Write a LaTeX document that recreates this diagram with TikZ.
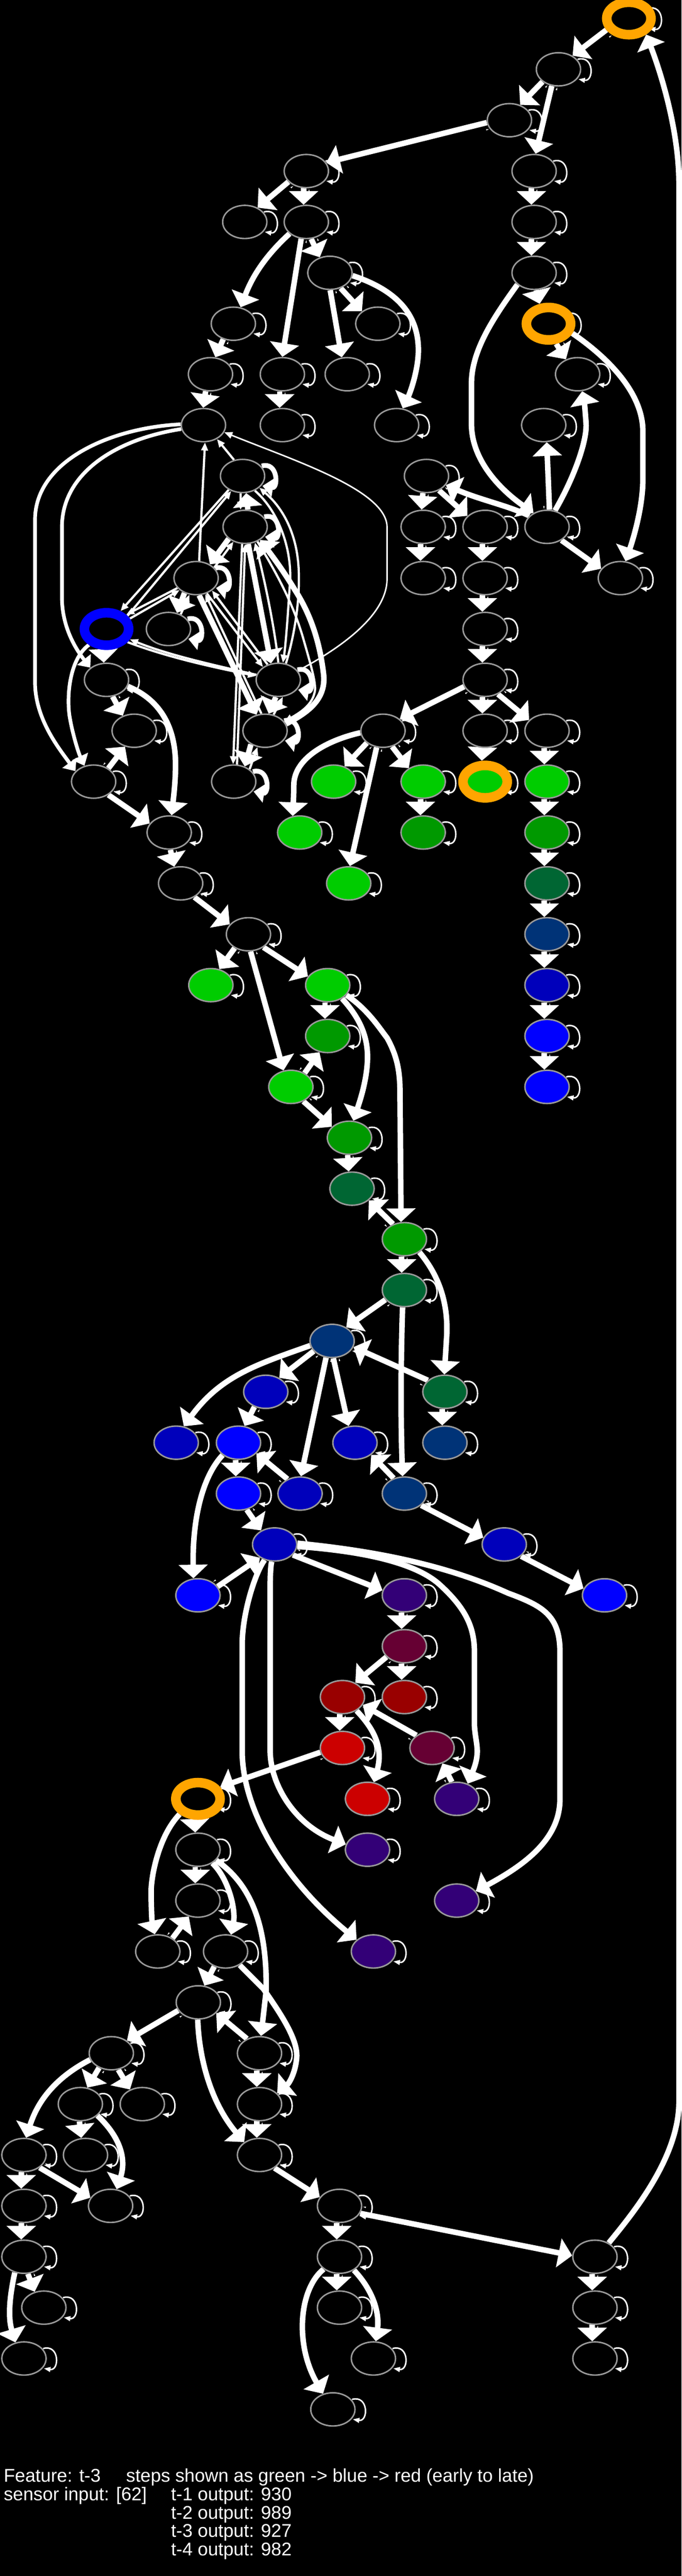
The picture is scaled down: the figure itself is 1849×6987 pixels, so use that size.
\documentclass[tikz,border=0pt]{standalone}
\usepackage{fontspec}
\setmainfont{Liberation Sans}
\usetikzlibrary{arrows.meta,calc,shapes.geometric}
\pgfdeclarelayer{bg}
\pgfdeclarelayer{edges}
\pgfsetlayers{bg,edges,main}
\definecolor{cG}{HTML}{00CC00}
\definecolor{cDG}{HTML}{009900}
\definecolor{cT}{HTML}{006633}
\definecolor{cN}{HTML}{003377}
\definecolor{cBB}{HTML}{0000BB}
\definecolor{cB}{HTML}{0000FF}
\definecolor{cP}{HTML}{330077}
\definecolor{cM}{HTML}{660033}
\definecolor{cDR}{HTML}{990000}
\definecolor{cR}{HTML}{CC0000}
\definecolor{cO}{HTML}{FFA500}
\definecolor{cBd}{HTML}{999999}
\tikzset{
  nd/.style={ellipse,draw=cBd,line width=4pt,fill=#1,minimum width=120pt,minimum height=90pt,inner sep=0pt},
  nd/.default=black,
  ringnd/.style 2 args={ellipse,draw=#1,line width=26pt,fill=#2,minimum width=120pt,minimum height=88pt,inner sep=0pt},
  mainedge/.style={draw=white,line width=15pt,-{Triangle[length=37pt,width=78pt]}},
  midedge/.style={draw=white,line width=10pt,-{Triangle[length=28pt,width=46pt]}},
  thinedge/.style={draw=white,line width=6pt,-{Triangle[length=22pt,width=18pt]}},
  hairedge/.style={draw=white,line width=4pt,-{Triangle[length=22pt,width=18pt]}},
  smallloop/.style={draw=white,line width=4pt,-{Triangle[length=18pt,width=13pt]}},
  thickloop/.style={draw=white,line width=13pt,-{Triangle[length=29pt,width=50pt]}},
  caption/.style={anchor=base west,text=white,inner sep=0pt,font=\fontsize{50}{50}\selectfont}
}
\newcommand{\myedge}[3][mainedge]{%
  \path let \p1=($(#3)-(#2)$) in \pgfextra{\pgfmathsetmacro\myphi{atan2(\y1,\x1)}\global\let\gphi\myphi};
  \pgfmathtruncatemacro\anga{\gphi-9}\pgfmathtruncatemacro\angb{\gphi+189}\pgfmathtruncatemacro\angc{\gphi+9}%
  \draw[#1] (#2.\anga) -- (#3.\angb);
  \fill[white] (#2.\angc) ++(\gphi:2pt) -- ++(\gphi+14:8pt) -- ++(\gphi-90:4pt) -- cycle;
}
\newcommand{\myloop}[2][smallloop]{%
  \draw[#1] ([shift={(52,-27)}]#2.center) .. controls ([shift={(97,-40)}]#2.center) and ([shift={(97,34)}]#2.center) .. ([shift={(54,27)}]#2.center);
}
\begin{document}
\begin{tikzpicture}[x=1pt,y=-1pt]
\useasboundingbox (0,0) rectangle (1849,6987);
\begin{pgfonlayer}{bg}
\fill[black] (0,0) rectangle (1849,6987);
\end{pgfonlayer}
% nodes
\node[ringnd={cO}{black}] (k0a) at (1706,50) {};
\node[nd] (k1a) at (1515,188) {};
\node[nd] (k2a) at (1382,326) {};
\node[nd] (k3a) at (831,464) {};
\node[nd] (k3b) at (1449,464) {};
\node[nd] (k4a) at (664,602) {};
\node[nd] (k4b) at (831,602) {};
\node[nd] (k4c) at (1449,602) {};
\node[nd] (k5a) at (895,740) {};
\node[nd] (k5b) at (1449,740) {};
\node[nd] (k6a) at (633,878) {};
\node[nd] (k6b) at (1025,878) {};
\node[ringnd={cO}{black}] (k6c) at (1488,878) {};
\node[nd] (k7a) at (571,1015) {};
\node[nd] (k7b) at (766,1015) {};
\node[nd] (k7c) at (942,1015) {};
\node[nd] (k7d) at (1567,1015) {};
\node[nd] (k8a) at (552,1153) {};
\node[nd] (k8b) at (766,1153) {};
\node[nd] (k8c) at (1076,1153) {};
\node[nd] (k8d) at (1475,1153) {};
\node[nd] (k9a) at (658,1291) {};
\node[nd] (k9b) at (1157,1291) {};
\node[nd] (k10a) at (665,1429) {};
\node[nd] (k10b) at (1148,1429) {};
\node[nd] (k10c) at (1316,1429) {};
\node[nd] (k10d) at (1484,1429) {};
\node[nd] (k11a) at (532,1568) {};
\node[nd] (k11b) at (1148,1568) {};
\node[nd] (k11c) at (1316,1568) {};
\node[nd] (k11d) at (1683,1568) {};
\node[ringnd={cB}{black}] (k12a) at (289,1706) {};
\node[nd] (k12b) at (457,1706) {};
\node[nd] (k12c) at (1316,1706) {};
\node[nd] (k13a) at (289,1844) {};
\node[nd] (k13b) at (755,1844) {};
\node[nd] (k13c) at (1316,1844) {};
\node[nd] (k14a) at (364,1982) {};
\node[nd] (k14b) at (719,1982) {};
\node[nd] (k14c) at (1039,1982) {};
\node[nd] (k14d) at (1316,1982) {};
\node[nd] (k14e) at (1484,1982) {};
\node[nd] (k15a) at (254,2120) {};
\node[nd] (k15b) at (634,2120) {};
\node[nd=cG] (k15c) at (905,2120) {};
\node[nd=cG] (k15d) at (1148,2120) {};
\node[ringnd={cO}{cG}] (k15e) at (1316,2120) {};
\node[nd=cG] (k15f) at (1484,2120) {};
\node[nd] (k16a) at (459,2258) {};
\node[nd=cG] (k16b) at (813,2258) {};
\node[nd=cDG] (k16c) at (1148,2258) {};
\node[nd=cDG] (k16d) at (1484,2258) {};
\node[nd] (k17a) at (490,2396) {};
\node[nd=cG] (k17b) at (946,2396) {};
\node[nd=cT] (k17c) at (1484,2396) {};
\node[nd] (k18a) at (674,2534) {};
\node[nd=cN] (k18b) at (1484,2534) {};
\node[nd=cG] (k19a) at (572,2672) {};
\node[nd=cG] (k19b) at (889,2672) {};
\node[nd=cBB] (k19c) at (1484,2672) {};
\node[nd=cDG] (k20a) at (889,2810) {};
\node[nd=cB] (k20b) at (1484,2810) {};
\node[nd=cG] (k21a) at (789,2948) {};
\node[nd=cB] (k21b) at (1484,2948) {};
\node[nd=cDG] (k22a) at (948,3086) {};
\node[nd=cT] (k23a) at (955,3224) {};
\node[nd=cDG] (k24a) at (1097,3361) {};
\node[nd=cT] (k25a) at (1097,3499) {};
\node[nd=cN] (k26a) at (901,3637) {};
\node[nd=cBB] (k27a) at (721,3775) {};
\node[nd=cT] (k27b) at (1207,3775) {};
\node[nd=cBB] (k28a) at (478,3913) {};
\node[nd=cB] (k28b) at (647,3913) {};
\node[nd=cBB] (k28c) at (963,3913) {};
\node[nd=cN] (k28d) at (1207,3913) {};
\node[nd=cB] (k29a) at (647,4051) {};
\node[nd=cBB] (k29b) at (814,4051) {};
\node[nd=cN] (k29c) at (1097,4051) {};
\node[nd=cBB] (k30a) at (745,4189) {};
\node[nd=cBB] (k30b) at (1368,4189) {};
\node[nd=cB] (k31a) at (537,4327) {};
\node[nd=cP] (k31b) at (1097,4327) {};
\node[nd=cB] (k31c) at (1640,4327) {};
\node[nd=cM] (k32a) at (1097,4465) {};
\node[nd=cDR] (k33a) at (929,4603) {};
\node[nd=cDR] (k33b) at (1097,4603) {};
\node[nd=cR] (k34a) at (929,4741) {};
\node[nd=cM] (k34b) at (1172,4741) {};
\node[ringnd={cO}{black}] (k35a) at (537,4879) {};
\node[nd=cR] (k35b) at (997,4879) {};
\node[nd=cP] (k35c) at (1239,4879) {};
\node[nd] (k36a) at (537,5017) {};
\node[nd=cP] (k36b) at (997,5017) {};
\node[nd] (k37a) at (537,5155) {};
\node[nd=cP] (k37b) at (1239,5155) {};
\node[nd] (k38a) at (428,5293) {};
\node[nd] (k38b) at (612,5293) {};
\node[nd=cP] (k38c) at (1013,5293) {};
\node[nd] (k39a) at (538,5431) {};
\node[nd] (k40a) at (302,5569) {};
\node[nd] (k40b) at (704,5569) {};
\node[nd] (k41a) at (218,5707) {};
\node[nd] (k41b) at (386,5707) {};
\node[nd] (k41c) at (704,5707) {};
\node[nd] (k42a) at (65,5845) {};
\node[nd] (k42b) at (232,5845) {};
\node[nd] (k42c) at (704,5845) {};
\node[nd] (k43a) at (65,5983) {};
\node[nd] (k43b) at (300,5983) {};
\node[nd] (k43c) at (921,5983) {};
\node[nd] (k44a) at (65,6121) {};
\node[nd] (k44b) at (921,6121) {};
\node[nd] (k44c) at (1614,6121) {};
\node[nd] (k45a) at (119,6259) {};
\node[nd] (k45b) at (921,6259) {};
\node[nd] (k45c) at (1614,6259) {};
\node[nd] (k46a) at (65,6397) {};
\node[nd] (k46b) at (1013,6397) {};
\node[nd] (k46c) at (1614,6397) {};
\node[nd] (k47a) at (903,6535) {};
% caption
\node[caption] (t1) at (10,6732) {Feature: t-3};
\node[caption] (t2) at (342,6732) {steps shown as green -> blue -> red (early to late)};
\node[caption] (t3) at (10,6782) {sensor input: [62]};
\node[caption] (t4) at (464,6782) {t-1 output: 930};
\node[caption] (t5) at (464,6832) {t-2 output: 989};
\node[caption] (t6) at (464,6882) {t-3 output: 927};
\node[caption] (t7) at (464,6932) {t-4 output: 982};
\begin{pgfonlayer}{edges}
% self loops
\foreach \n in {k0a,k1a,k2a,k3a,k3b,k4a,k4b,k4c,k5a,k5b,k6a,k6b,k6c,k7a,k7b,k7c,k7d,k8b,k8c,k8d,k9b,k10b,k10c,k10d,k11b,k11c,k11d,k12c,k13a,k13c,k14a,k14c,k14d,k14e,k15a,k15c,k15d,k15e,k15f,k16a,k16b,k16c,k16d,k17a,k17b,k17c,k18a,k18b,k19a,k19b,k19c,k20a,k20b,k21a,k21b,k22a,k23a,k24a,k25a,k26a,k27a,k27b,k28a,k28b,k28c,k28d,k29a,k29b,k29c,k30a,k30b,k31a,k31b,k31c,k32a,k33a,k33b,k34a,k34b,k35a,k35b,k35c,k36a,k36b,k37a,k37b,k38a,k38b,k38c,k39a,k40a,k40b,k41a,k41b,k41c,k42a,k42b,k42c,k43a,k43b,k43c,k44a,k44b,k44c,k45a,k45b,k45c,k46a,k46b,k46c,k47a}{\myloop{\n}}
\foreach \n in {k9a,k10a,k11a,k12b,k13b,k14b,k15b}{\myloop[thickloop]{\n}}
% straight edges
\myedge{k0a}{k1a}\myedge{k1a}{k2a}\myedge{k1a}{k3b}\myedge{k2a}{k3a}\myedge{k3a}{k4a}\myedge{k3a}{k4b}
\myedge{k4b}{k5a}\myedge{k4b}{k7b}\myedge{k5a}{k6b}\myedge{k5a}{k7c}\myedge{k6a}{k7a}\myedge{k7a}{k8a}\myedge{k7b}{k8b}
\myedge{k3b}{k4c}\myedge{k4c}{k5b}\myedge{k5b}{k6c}\myedge{k6c}{k7d}\myedge{k10d}{k8d}\myedge{k10d}{k11d}
\myedge{k9b}{k10b}\myedge{k9b}{k10c}\myedge{k10b}{k11b}\myedge{k10c}{k11c}\myedge{k11c}{k12c}\myedge{k12c}{k13c}
\myedge{k13c}{k14d}\myedge{k14d}{k15e}\myedge{k13c}{k14c}\myedge{k13c}{k14e}\myedge{k14c}{k15c}\myedge{k14c}{k15d}\myedge{k14c}{k17b}
\myedge{k14e}{k15f}\myedge{k15f}{k16d}\myedge{k16d}{k17c}\myedge{k17c}{k18b}\myedge{k18b}{k19c}\myedge{k19c}{k20b}\myedge{k20b}{k21b}
\myedge{k15d}{k16c}\myedge{k12a}{k13a}\myedge{k13a}{k14a}\myedge{k15a}{k14a}\myedge{k15a}{k16a}\myedge{k16a}{k17a}\myedge{k17a}{k18a}
\myedge{k18a}{k19a}\myedge{k18a}{k19b}\myedge{k18a}{k21a}\myedge{k19b}{k20a}\myedge{k21a}{k20a}\myedge{k21a}{k22a}\myedge{k22a}{k23a}
\myedge{k24a}{k23a}\myedge{k24a}{k25a}\myedge{k25a}{k26a}\myedge{k27b}{k26a}\myedge{k27b}{k28d}\myedge{k26a}{k27a}\myedge{k26a}{k29b}\myedge{k26a}{k28c}
\myedge{k27a}{k28b}\myedge{k28b}{k29a}\myedge{k29b}{k28b}\myedge{k29a}{k30a}\myedge{k29c}{k28c}\myedge{k29c}{k30b}\myedge{k30b}{k31c}
\myedge{k31a}{k30a}\myedge{k30a}{k31b}\myedge{k31b}{k32a}\myedge{k32a}{k33a}\myedge{k32a}{k33b}\myedge{k33a}{k34a}\myedge{k34b}{k33a}\myedge{k35c}{k34b}
\myedge{k34a}{k35a}\myedge{k35a}{k36a}\myedge{k36a}{k37a}\myedge{k38a}{k37a}\myedge{k38b}{k39a}\myedge{k40b}{k39a}\myedge{k39a}{k40a}\myedge{k40b}{k41c}\myedge{k41c}{k42c}
\myedge{k40a}{k41a}\myedge{k40a}{k41b}\myedge{k41a}{k42b}\myedge{k42a}{k43a}\myedge{k42a}{k43b}\myedge{k43a}{k44a}\myedge{k44a}{k45a}
\myedge{k42c}{k43c}\myedge{k43c}{k44b}\myedge{k43c}{k44c}\myedge{k44b}{k45b}\myedge{k44c}{k45c}\myedge{k45c}{k46c}
% curved edges
\draw[mainedge] (k4b.215) .. controls (735,680) and (690,735) .. (k6a.66);
\draw[mainedge] (k5a.-7) .. controls (1085,790) and (1135,860) .. (1135,950) .. controls (1135,1000) and (1115,1060) .. (k8c.70);
\draw[mainedge] (k5b.215) .. controls (1340,860) and (1279,950) .. (1279,1040) -- (1279,1150) .. controls (1279,1250) and (1360,1330) .. (k10d.134);
\draw[mainedge] (k6c.-22) .. controls (1620,950) and (1744,1050) .. (1744,1170) -- (1744,1300) .. controls (1744,1380) and (1715,1470) .. (k11d.73);
\draw[mainedge] (k10d.64) .. controls (1555,1300) and (1592,1200) .. (1590,1150) .. controls (1588,1120) and (1585,1090) .. (k7d.285);
\draw[mainedge] (k10d.148) .. controls (1380,1372) and (1300,1355) .. (k9b.-25);
\draw[mainedge] (k14c.185) .. controls (880,2010) and (797,2060) .. (797,2130) .. controls (797,2160) and (795,2190) .. (k16b.113);
\draw[mainedge] (k13a.-17) .. controls (440,1900) and (480,1980) .. (476,2090) .. controls (475,2130) and (470,2170) .. (k16a.82);
\draw[mainedge] (k19b.-43) .. controls (975,2760) and (998,2810) .. (997,2870) .. controls (996,2930) and (975,2990) .. (k22a.77);
\draw[mainedge] (k19b.-28) .. controls (1000,2740) and (1030,2790) .. (1050,2815) .. controls (1075,2860) and (1085,2900) .. (1085,2960) -- (k24a.101);
\draw[mainedge] (k24a.-41) .. controls (1200,3470) and (1215,3550) .. (1212,3620) -- (k27b.92);
\draw[mainedge] (k25a.264) .. controls (1087,3700) and (1087,3850) .. (k29c.96);
\draw[mainedge] (k26a.192) .. controls (700,3700) and (600,3730) .. (k28a.65);
\draw[mainedge] (k28b.218) .. controls (545,4010) and (522,4130) .. (k31a.105);
\draw[mainedge] (k30a.237) .. controls (690,4270) and (657,4380) .. (657,4461) -- (657,4749) .. controls (657,4900) and (760,5090) .. (k38c.145);
\draw[mainedge] (k30a.262) .. controls (736,4230) and (733,4260) .. (733,4300) -- (733,4749) .. controls (733,4840) and (800,4950) .. (k36b.166);
\draw[mainedge] (k30a.-5) .. controls (950,4205) and (1120,4230) .. (1195,4300) .. controls (1260,4360) and (1287,4410) .. (1287,4480) -- (1287,4680) .. controls (1290,4730) and (1305,4750) .. (k35c.54);
\draw[mainedge] (k30a.3) .. controls (1000,4205) and (1200,4240) .. (1378,4321) .. controls (1470,4355) and (1519,4380) .. (1519,4480) -- (1519,4880) .. controls (1519,4990) and (1420,5060) .. (k37b.26);
\draw[mainedge] (k33a.-44) .. controls (1015,4690) and (1040,4740) .. (k35b.69);
\draw[mainedge] (k35a.220) .. controls (430,4980) and (410,5090) .. (410,5130) .. controls (410,5170) and (412,5210) .. (k38a.100);
\draw[mainedge] (k36a.-43) .. controls (620,5095) and (640,5180) .. (k38b.72);
\draw[mainedge] (k36a.-30) .. controls (680,5110) and (725,5220) .. (722,5400) -- (k40b.85);
\draw[mainedge] (k38b.-44) -- (715,5395) .. controls (760,5460) and (808,5530) .. (805,5580) .. controls (802,5620) and (785,5650) .. (k41c.32);
\draw[mainedge] (k39a.268) .. controls (540,5580) and (570,5700) .. (k42c.140);
\draw[mainedge] (k40a.197) .. controls (160,5630) and (105,5690) .. (k42a.83);
\draw[mainedge] (k41a.-34) .. controls (320,5790) and (345,5850) .. (k43b.70);
\draw[mainedge] (k44a.240) .. controls (28,6220) and (20,6280) .. (k46a.118);
\draw[mainedge] (k44b.-43) .. controls (1010,6210) and (1030,6270) .. (k46b.82);
\draw[mainedge] (k44b.218) .. controls (810,6210) and (800,6360) .. (k47a.122);
\draw[mainedge] (k44c.45) .. controls (1720,6000) and (1842,5850) .. (1842,5700) -- (1842,500) .. controls (1842,350) and (1790,190) .. (k0a.-43);
% tangle
\draw[midedge] (k8a.178) .. controls (300,1160) and (95,1250) .. (95,1410) -- (95,1850) .. controls (95,1950) and (160,2030) .. (k15a.150);
\draw[midedge] (k8a.190) .. controls (320,1190) and (168,1280) .. (168,1430) -- (168,1620) .. controls (168,1700) and (205,1760) .. (k13a.143);
\draw[midedge] (k12a.222) .. controls (185,1790) and (180,1900) .. (190,1950) .. controls (197,1990) and (212,2040) .. (k15a.120);
\draw[thinedge] (k9a.118) -- (k8a.314);
\draw[thinedge] (k11a.80) -- (k8a.275);
\draw[hairedge] (k13b.25) .. controls (920,1760) and (1050,1670) .. (1050,1570) -- (1050,1430) .. controls (1050,1330) and (800,1250) .. (k8a.341);
\draw[thinedge] (k9a.225) -- (k12a.52);
\draw[thinedge] (k12a.32) -- (k9a.233);
\draw[thinedge] (k11a.208) -- (k12a.36);
\draw[thinedge] (k12a.24) -- (k11a.216);
\draw[mainedge] (k11a.232) -- (k12b.62);
\draw[thinedge] (k12b.50) -- (k11a.248);
\draw[mainedge] (k10a.216) -- (k11a.45);
\draw[thinedge] (k11a.30) -- (k10a.232);
\draw[mainedge] (k10a.81) -- (k9a.-78);
\draw[thinedge] (k9a.264) -- (k10a.105);
\draw[thinedge] (k10a.260) -- (k15b.92);
\draw[thinedge] (k15b.79) -- (k10a.270);
\draw[mainedge] (k10a.280) -- (k13b.114);
\draw[thinedge] (k13b.90) .. controls (745,1700) and (715,1560) .. (k10a.302);
\draw[mainedge] (k14b.18) .. controls (830,1935) and (885,1900) .. (878,1830) .. controls (868,1745) and (845,1670) .. (800,1600) .. controls (770,1550) and (740,1510) .. (k10a.319);
\draw[thinedge] (k10a.310) .. controls (760,1570) and (800,1650) .. (825,1740) .. controls (845,1810) and (860,1860) .. (853,1880) .. controls (845,1915) and (810,1935) .. (k14b.25);
\draw[thinedge] (k9a.310) .. controls (760,1390) and (795,1500) .. (786,1590) .. controls (780,1680) and (775,1750) .. (k13b.75);
\draw[thinedge] (k13b.65) .. controls (800,1720) and (815,1620) .. (810,1540) .. controls (805,1450) and (770,1380) .. (k9a.325);
\draw[thinedge] (k13b.125) -- (k11a.322);
\draw[thinedge] (k11a.305) -- (k13b.140);
\draw[mainedge] (k11a.280) -- (k14b.118);
\draw[thinedge] (k14b.102) -- (k11a.300);
\draw[mainedge] (k13b.262) -- (k14b.78);
\draw[thinedge] (k14b.62) -- (k13b.285);
\draw[mainedge] (k14b.224) -- (k15b.54);
\draw[thinedge] (k15b.38) -- (k14b.245);
\draw[thinedge] (k12a.328) .. controls (460,1785) and (590,1812) .. (k13b.170);
\draw[thinedge] (k13b.167) .. controls (590,1806) and (460,1778) .. (k12a.336);
\end{pgfonlayer}
\end{tikzpicture}
\end{document}
